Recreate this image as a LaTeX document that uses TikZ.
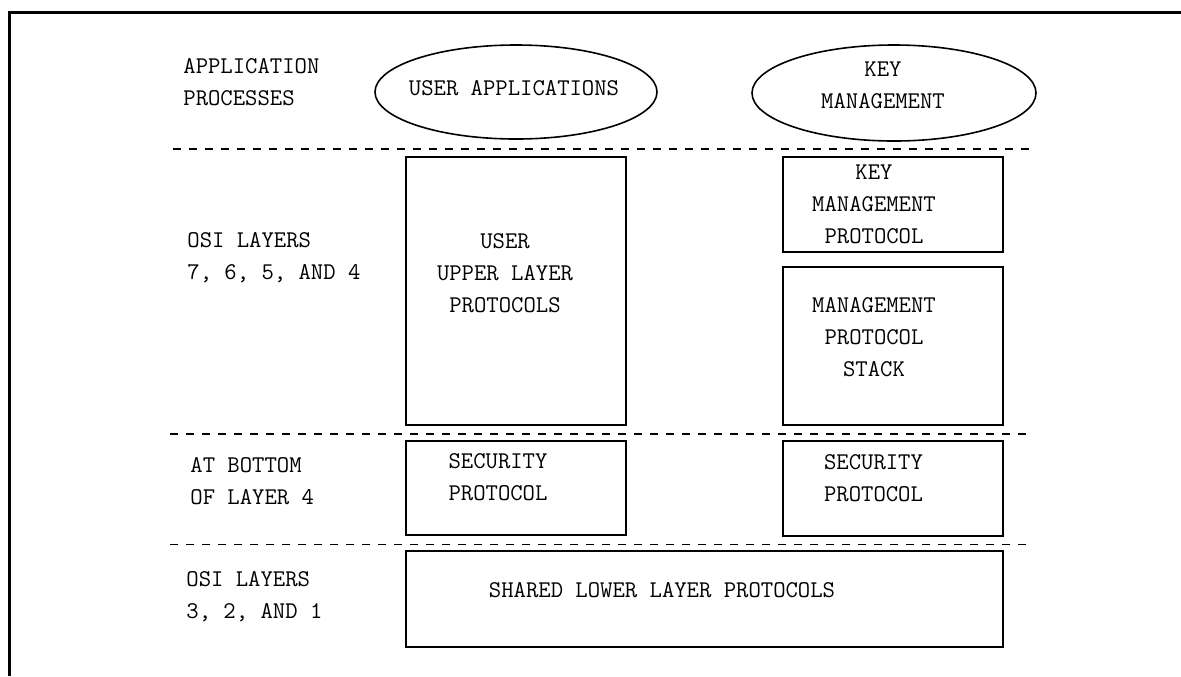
\documentclass[tikz,border=0pt]{standalone}
\usepackage{amsmath}
\usepackage{tikz}

\newcommand{\diagfont}{\fontsize{12}{16}\selectfont\ttfamily}

\begin{document}
\begin{tikzpicture}[x=0.5pt, y=-0.5pt,
    lbl/.style={font=\diagfont, align=center, inner sep=0pt},
    layerlbl/.style={lbl, align=left, anchor=west},
    sep/.style={line width=0.9pt, dash pattern=on 4pt off 4pt},
    protbox/.style={line width=1pt}]
            \useasboundingbox (0,0) rectangle (1181,676);
            % Cornice
            \draw[line width=1.5pt] (9,676) -- (9,12) -- (1181,12);
            % Etichette dei livelli
            \node[layerlbl] (app) at (183,82.5) {APPLICATION\\PROCESSES};
            \node[layerlbl] (osiup) at (187,257.5) {OSI LAYERS\\7, 6, 5, AND 4};
            \node[layerlbl] (bottom) at (190,481) {AT BOTTOM\\OF LAYER 4};
            \node[layerlbl] (osilow) at (186,597) {OSI LAYERS\\3, 2, AND 1};
            % Separatori tratteggiati
            \draw[sep] (173,149) -- (1035,149);
            \draw[sep] (170,434) -- (1033,434);
            \draw[sep] (170,544.5) -- (1032,544.5);
            % Processi applicativi
            \draw[line width=0.8pt] (516,92) ellipse [x radius=141, y radius=47];
            \node[lbl] (userapp) at (514,88) {USER APPLICATIONS};
            \draw[line width=0.8pt] (894,93) ellipse [x radius=142, y radius=48];
            \node[lbl] (keymgmt) at (883,85.5) {KEY\\MANAGEMENT};
            % Protocolli di livello superiore
            \draw[protbox] (406,157) rectangle (626,425);
            \node[lbl] (userupper) at (505,273.5) {USER\\UPPER LAYER\\PROTOCOLS};
            \draw[protbox] (783,157) rectangle (1003,252);
            \node[lbl] (kmproto) at (874,204) {KEY\\MANAGEMENT\\PROTOCOL};
            \draw[protbox] (783,267) rectangle (1003,425);
            \node[lbl] (mgmtstack) at (874,337) {MANAGEMENT\\PROTOCOL\\STACK};
            % Protocolli di sicurezza
            \draw[protbox] (406,440.5) rectangle (626,535);
            \node[lbl] (secleft) at (498,477) {SECURITY\\PROTOCOL};
            \draw[protbox] (783,440.5) rectangle (1003,536);
            \node[lbl] (secright) at (873.5,478) {SECURITY\\PROTOCOL};
            % Protocolli condivisi
            \draw[protbox] (406,551) rectangle (1003,647);
            \node[lbl] (shared) at (662,590) {SHARED LOWER LAYER PROTOCOLS};
\end{tikzpicture}
\end{document}
